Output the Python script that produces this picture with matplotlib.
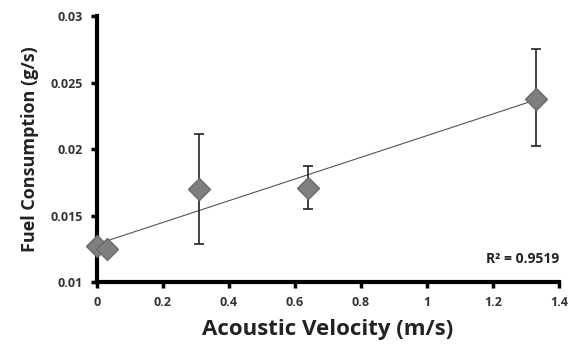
import matplotlib.pyplot as plt
import numpy as np

velocity = [0.0, 0.03, 0.31, 0.64, 1.33]
fuel = [0.0127, 0.0125, 0.0170, 0.0171, 0.0238]
err_lo = [0.0, 0.0, 0.0041, 0.0016, 0.0036]
err_hi = [0.0, 0.0, 0.0041, 0.0016, 0.0037]
r2_label = "R² = 0.9519"

plt.rcParams['font.family'] = ['Open Sans', 'DejaVu Sans']

fig = plt.figure(figsize=(5.87, 3.64), dpi=100)
ax = fig.add_axes([0.165, 0.225, 0.787, 0.731])

# linear trendline through the points
slope, icpt = np.polyfit(velocity, fuel, 1)
xs = np.array([0, max(velocity)])
ax.plot(xs, icpt + slope * xs, color='#555555', lw=0.8, zorder=2)

ax.errorbar(velocity, fuel, yerr=[err_lo, err_hi], fmt='none', ecolor='#222222',
            elinewidth=1.2, capsize=3.5, capthick=1.2, zorder=3)
ax.plot(velocity, fuel, linestyle='None', marker='D', markersize=11,
        color='#7f7f7f', markeredgecolor='#6a6a6a', zorder=4, clip_on=False)

ax.set_xlim(0, 1.4)
ax.set_ylim(0.01, 0.03)
ax.set_xticks(np.arange(0, 1.41, 0.2))
ax.set_xticklabels(['0', '0.2', '0.4', '0.6', '0.8', '1', '1.2', '1.4'])
ax.set_yticks([0.01, 0.015, 0.02, 0.025, 0.03])
ax.set_yticklabels(['0.01', '0.015', '0.02', '0.025', '0.03'])

for s in ['top', 'right']:
    ax.spines[s].set_visible(False)
for s in ['left', 'bottom']:
    ax.spines[s].set_linewidth(3)
ax.tick_params(direction='out', length=4, width=2.5, labelsize=9, pad=6)
for lbl in ax.get_xticklabels() + ax.get_yticklabels():
    lbl.set_fontweight('bold')
    lbl.set_color('#333333')

ax.set_xlabel('Acoustic Velocity (m/s)', fontsize=16, fontweight='bold', color='#222222', labelpad=7)
ax.set_ylabel('Fuel Consumption (g/s)', fontsize=13, fontweight='bold', color='#222222', labelpad=8)

ax.text(1.4, 0.0117, r2_label, fontsize=10, fontweight='bold', ha='right', va='center', color='#222222')

fig.savefig('out.png', dpi=100)
